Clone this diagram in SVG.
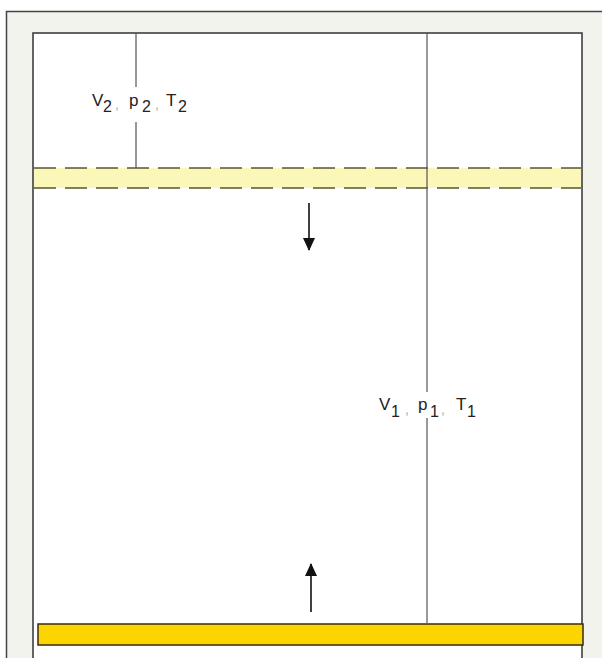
<svg xmlns="http://www.w3.org/2000/svg" width="602" height="658" viewBox="0 0 602 658">
<defs>
<style>
.lbl{font-family:"Liberation Sans",Arial,sans-serif;font-size:17px;fill:#222}
.sub{font-size:16px}
.cm{fill:#aaa;font-size:14px}
.thin{stroke:#555;stroke-width:1.2;fill:none}
.dash{stroke:#5a5530;stroke-width:1.6;stroke-dasharray:22 9;fill:none}
.arr{stroke:#111;stroke-width:1.6;fill:none}
</style>
<marker id="ah" viewBox="0 0 13 12" refX="12" refY="6" markerWidth="13" markerHeight="12" orient="auto" markerUnits="userSpaceOnUse">
<path d="M0,0 L13,6 L0,12 z" fill="#111"/>
</marker>
</defs>
<rect width="602" height="658" fill="#fff"/>
<g id="frame">
<rect x="6.5" y="11.5" width="600" height="660" fill="#f3f3ee" stroke="#444" stroke-width="1.5"/>
<rect x="33" y="33" width="549" height="640" fill="#fff" stroke="#333" stroke-width="1.5"/>
</g>
<g id="piston-top">
<rect x="34" y="168" width="547" height="20" fill="#fbf7b8"/>
<line class="dash" x1="34" y1="168" x2="581" y2="168"/>
<line class="dash" x1="34" y1="188" x2="581" y2="188"/>
</g>
<g id="piston-bottom">
<rect x="38" y="624" width="545" height="21" fill="#fcd400" stroke="#3a2a10" stroke-width="1.5"/>
</g>
<g id="connectors">
<line class="thin" x1="136" y1="33" x2="136" y2="87"/>
<line class="thin" x1="136" y1="122" x2="136" y2="168"/>
<line class="thin" x1="427" y1="33" x2="427" y2="392"/>
<line class="thin" x1="427" y1="418" x2="427" y2="623"/>
<line class="arr" x1="309" y1="203" x2="309" y2="250" marker-end="url(#ah)"/>
<line class="arr" x1="311" y1="612" x2="311" y2="564" marker-end="url(#ah)"/>
</g>
<g id="label2" class="lbl">
<text x="92" y="106">V</text><text class="sub" x="103" y="112">2</text><text class="cm" x="115" y="109">,</text>
<text x="129" y="106">p</text><text class="sub" x="142" y="112">2</text><text class="cm" x="155" y="109">,</text>
<text x="166" y="106">T</text><text class="sub" x="178" y="112">2</text>
</g>
<g id="label1" class="lbl">
<text x="379" y="410">V</text><text class="sub" x="391" y="417">1</text><text class="cm" x="405" y="414">,</text>
<text x="418" y="410">p</text><text class="sub" x="430" y="417">1</text><text class="cm" x="441" y="414">,</text>
<text x="456" y="410">T</text><text class="sub" x="467" y="417">1</text>
</g>
</svg>
